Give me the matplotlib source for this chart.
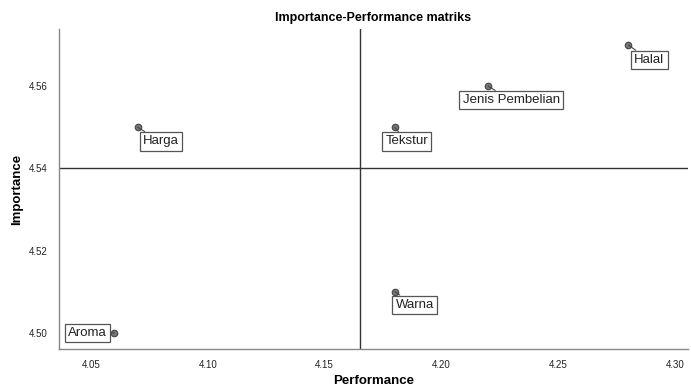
import matplotlib
matplotlib.use("Agg")
import matplotlib.pyplot as plt

plt.rcParams['font.family'] = ['Liberation Sans', 'DejaVu Sans']

labels = ["Halal", "Jenis Pembelian", "Harga", "Tekstur", "Warna", "Aroma"]
performance = [4.28, 4.22, 4.07, 4.18, 4.18, 4.06]
importance = [4.57, 4.56, 4.55, 4.55, 4.51, 4.50]
# label offsets in pixels (dx, dy) from point to box centre
offsets = [(21, -15), (23, -14), (23, -14), (12, -14), (20, -13), (-27, 0)]

x_mean = sum(performance) / len(performance)
y_mean = sum(importance) / len(importance)

fig = plt.figure(figsize=(6.91, 3.88), dpi=100)
ax = fig.add_axes([59/691, 39/388, 629/691, 320/388])

ax.set_xlim(4.0363, 4.3055)
ax.set_ylim(4.4961, 4.5739)
ax.set_xticks([4.05, 4.10, 4.15, 4.20, 4.25, 4.30])
ax.set_xticklabels(["4.05", "4.10", "4.15", "4.20", "4.25", "4.30"])
ax.set_yticks([4.50, 4.52, 4.54, 4.56])
ax.set_yticklabels(["4.50", "4.52", "4.54", "4.56"])
ax.tick_params(axis='both', length=0, labelsize=7, colors='#222222', pad=8)

for s in ['top', 'right']:
    ax.spines[s].set_visible(False)
for s in ['left', 'bottom']:
    ax.spines[s].set_color('#888888')
    ax.spines[s].set_linewidth(1.0)

ax.axvline(x_mean, color='#333333', lw=1.0, zorder=1)
ax.axhline(y_mean, color='#333333', lw=1.0, zorder=1)

ax.scatter(performance, importance, s=22, color='#777777', edgecolors='#444444',
           linewidths=0.8, zorder=3)

for lab, x, y, (dx, dy) in zip(labels, performance, importance, offsets):
    ax.annotate(lab, xy=(x, y), xytext=(dx, dy), textcoords='offset pixels',
                ha='center', va='center', fontsize=9.5, color='#222222',
                bbox=dict(boxstyle='square,pad=0.25', fc='white', ec='#555555', lw=0.9),
                arrowprops=dict(arrowstyle='-', color='#444444', lw=0.8,
                                shrinkA=0, shrinkB=0),
                zorder=4)

ax.set_title("Importance-Performance matriks", fontsize=9, fontweight='bold', pad=6)
ax.set_xlabel("Performance", fontsize=9.5, fontweight='bold')
ax.set_ylabel("Importance", fontsize=9.5, fontweight='bold')
ax.xaxis.set_label_coords(0.5, -0.1)
ax.yaxis.set_label_coords(-0.067, 0.5)
ax.xaxis.label.set_va('center')
ax.yaxis.label.set_va('center')

fig.savefig("out.png", dpi=100)
